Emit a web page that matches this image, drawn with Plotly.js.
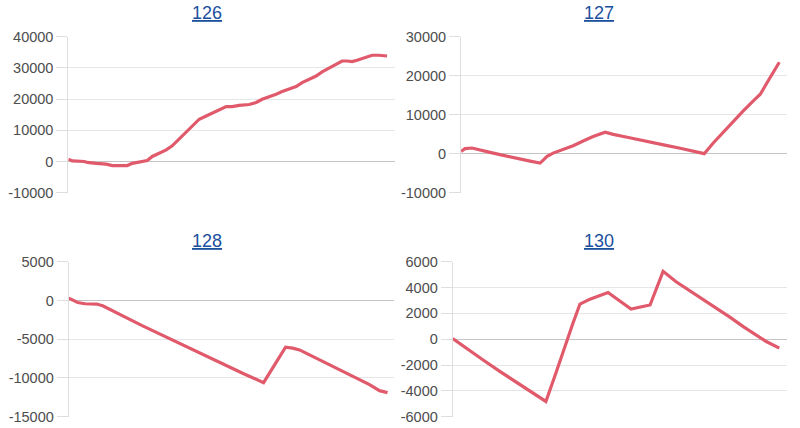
<!DOCTYPE html>
<html>
<head>
<meta charset="utf-8">
<script src="https://cdn.plot.ly/plotly-3.0.1.min.js"></script>
<style>html,body{margin:0;padding:0;background:#fff;}#chart{width:800px;height:428px;}</style>
</head>
<body>
<div id="chart"></div>
<script>
// Panel titles
const titles = ["126", "127", "128", "130"];

// Y tick values for each panel (labels drawn with a plain hyphen minus)
const ticks126 = [-10000, 0, 10000, 20000, 30000, 40000];
const ticks127 = [-10000, 0, 10000, 20000, 30000];
const ticks128 = [-15000, -10000, -5000, 0, 5000];
const ticks130 = [-6000, -4000, -2000, 0, 2000, 4000, 6000];

// Series 126 (day index, cumulative value)
const days126 = [0,4,16,19,28,38,44,51,59,64,69,74,79,84,91,98,104,111,118,124,131,138,144,151,158,164,171,181,188,194,201,208,214,221,228,234,241,248,254,261,268,274,279,284,289,294,301,304,311,319];
const vals126 = [750,200,0,-300,-600,-850,-1300,-1400,-1300,-600,-300,100,300,1600,2700,3700,5000,7150,9300,11400,13550,14600,15500,16750,17600,17600,18000,18250,18900,19950,20700,21550,22400,23150,24000,25300,26350,27400,28700,29900,30950,32200,32200,32000,32450,33000,33600,34050,34050,33800];

// Series 127
const days127 = [0,4,11,19,29,39,49,59,69,79,86,92,102,112,122,132,144,152,166,179,192,206,219,232,243,252,262,272,282,292,299,306,312,318];
const vals127 = [600,1300,1450,1050,350,-250,-850,-1400,-1900,-2400,-700,150,1050,2050,3250,4400,5500,4950,4200,3450,2750,2050,1400,600,0,2750,5500,8350,10950,13550,15250,18300,20850,23450];

// Series 128
const days128 = [0,4,9,16,28,34,44,54,64,74,84,94,104,114,124,134,144,154,164,174,184,195,206,217,224,231,241,251,261,271,281,291,301,311,319];
const vals128 = [300,0,-260,-430,-470,-690,-1300,-1980,-2630,-3280,-3880,-4480,-5090,-5730,-6380,-6940,-7540,-8150,-8790,-9400,-10000,-10600,-8320,-6030,-6160,-6380,-7030,-7670,-8230,-8880,-9530,-10170,-10860,-11640,-11900];

// Series 130
const days130 = [0,13,30,47,63,80,93,103,113,120,127,137,155,178,197,210,223,237,250,263,277,290,303,313,326];
const vals130 = [50,-690,-1590,-2490,-3310,-4150,-4820,-2620,-310,1230,2720,3100,3610,2330,2650,5250,4440,3740,3030,2380,1690,970,330,-180,-690];

const lineColor = '#e05a6c';
const series = [
  {x: days126, y: vals126},
  {x: days127, y: vals127},
  {x: days128, y: vals128},
  {x: days130, y: vals130}
];

const data = series.map((s, i) => ({
  type: 'scatter', mode: 'lines',
  x: s.x, y: s.y,
  xaxis: i === 0 ? 'x' : 'x' + (i + 1),
  yaxis: i === 0 ? 'y' : 'y' + (i + 1),
  line: {color: lineColor, width: 3.2},
  hoverinfo: 'skip'
}));

function xax(domain, range, anchor) {
  return {domain: domain, range: range, anchor: anchor, showgrid: false, zeroline: false,
          showline: false, showticklabels: false, ticks: '', fixedrange: true};
}
function yax(domain, range, tv, anchor) {
  return {domain: domain, range: range, anchor: anchor,
          tickmode: 'array', tickvals: tv, ticktext: tv.map(v => String(v)),
          showgrid: true, gridcolor: '#e6e6e6', gridwidth: 1,
          zeroline: true, zerolinecolor: '#c4c4c4', zerolinewidth: 1,
          showline: true, linecolor: '#dedede', linewidth: 1,
          ticks: 'outside', ticklen: 11, tickcolor: '#dedede', tickwidth: 1,
          tickfont: {size: 14.5, color: '#4d4d4d', family: 'Liberation Sans, Arial, sans-serif'},
          fixedrange: true};
}

const layout = {
  width: 800, height: 428,
  margin: {l: 0, r: 0, t: 0, b: 0},
  paper_bgcolor: '#fff', plot_bgcolor: '#fff',
  showlegend: false,
  font: {family: 'Liberation Sans, Arial, sans-serif'},
  xaxis:  xax([0.0854, 0.4938], [0, 327], 'y'),
  yaxis:  yax([0.5498, 0.9143], [-10000, 40000], ticks126, 'x'),
  xaxis2: xax([0.5763, 0.9834], [0, 325.4], 'y2'),
  yaxis2: yax([0.5498, 0.9143], [-10000, 30000], ticks127, 'x2'),
  xaxis3: xax([0.0859, 0.4925], [0, 325.5], 'y3'),
  yaxis3: yax([0.0264, 0.3886], [-15000, 5000], ticks128, 'x3'),
  xaxis4: xax([0.5659, 0.9834], [0, 333.4], 'y4'),
  yaxis4: yax([0.0264, 0.3886], [-6000, 6000], ticks130, 'x4'),
  annotations: [
    {text: '<u>' + titles[0] + '</u>', x: 207/800, y: 1 - 13/428},
    {text: '<u>' + titles[1] + '</u>', x: 599/800, y: 1 - 13/428},
    {text: '<u>' + titles[2] + '</u>', x: 207/800, y: 1 - 241/428},
    {text: '<u>' + titles[3] + '</u>', x: 599/800, y: 1 - 241/428}
  ].map(a => Object.assign(a, {xref: 'paper', yref: 'paper', xanchor: 'center', yanchor: 'middle',
        showarrow: false, font: {size: 18, color: '#1a4f9e', family: 'Liberation Sans, Arial, sans-serif'}}))
};

Plotly.newPlot('chart', data, layout, {displayModeBar: false, staticPlot: true});
</script>
</body>
</html>
